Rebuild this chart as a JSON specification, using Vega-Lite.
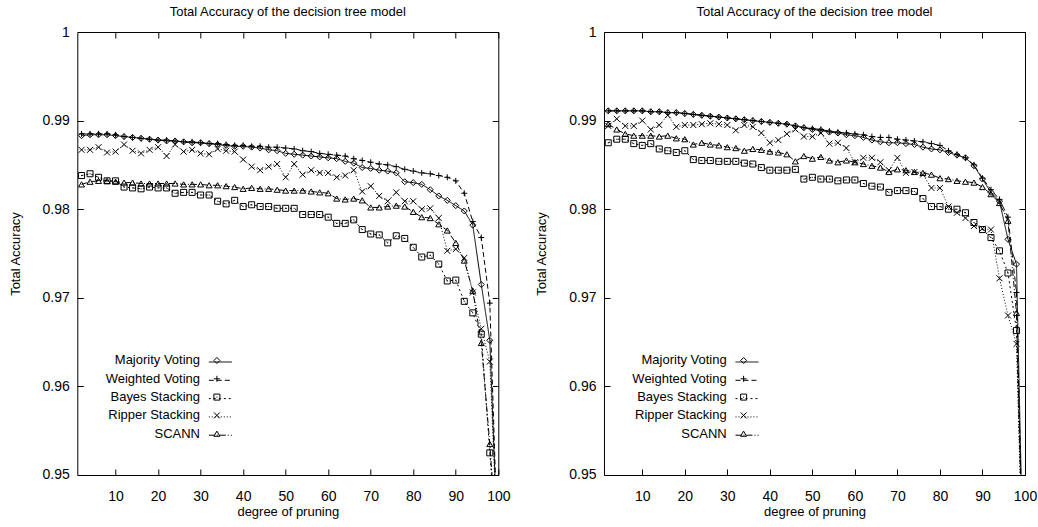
{
  "$schema": "https://vega.github.io/schema/vega-lite/v6.json",
  "padding": {"left": 8.3, "top": 5, "right": 0, "bottom": 0},
  "spacing": 23.7,
  "resolve": {"legend": {"strokeDash": "independent", "shape": "independent"}},
  "config": {
    "font": "Liberation Sans, Arial, sans-serif",
    "view": {"stroke": "black", "strokeWidth": 1},
    "axis": {"grid": false, "domain": false, "tickColor": "black", "tickSize": -6, "tickWidth": 1, "labelColor": "black", "titleColor": "black", "labelFont": "Liberation Sans, Arial, sans-serif", "titleFont": "Liberation Sans, Arial, sans-serif", "labelFontSize": 14, "titleFontSize": 13, "titleFontWeight": "normal", "labelFlush": false},
    "title": {"font": "Liberation Sans, Arial, sans-serif", "fontSize": 13, "fontWeight": "normal", "color": "black"},
    "legend": {"labelFont": "Liberation Sans, Arial, sans-serif", "labelColor": "black", "padding": 0}
  },
  "datasets": {
    "left": [
      {"deg":2,"method":"Majority Voting","acc":0.9883},{"deg":4,"method":"Majority Voting","acc":0.9884},{"deg":6,"method":"Majority Voting","acc":0.9884},{"deg":8,"method":"Majority Voting","acc":0.9884},{"deg":10,"method":"Majority Voting","acc":0.9883},{"deg":12,"method":"Majority Voting","acc":0.9882},{"deg":14,"method":"Majority Voting","acc":0.9881},{"deg":16,"method":"Majority Voting","acc":0.988},{"deg":18,"method":"Majority Voting","acc":0.9879},{"deg":20,"method":"Majority Voting","acc":0.9878},{"deg":22,"method":"Majority Voting","acc":0.9877},{"deg":24,"method":"Majority Voting","acc":0.9877},{"deg":26,"method":"Majority Voting","acc":0.9876},{"deg":28,"method":"Majority Voting","acc":0.9875},{"deg":30,"method":"Majority Voting","acc":0.9875},{"deg":32,"method":"Majority Voting","acc":0.9874},{"deg":34,"method":"Majority Voting","acc":0.9873},{"deg":36,"method":"Majority Voting","acc":0.9872},{"deg":38,"method":"Majority Voting","acc":0.9871},{"deg":40,"method":"Majority Voting","acc":0.9871},{"deg":42,"method":"Majority Voting","acc":0.987},{"deg":44,"method":"Majority Voting","acc":0.9869},{"deg":46,"method":"Majority Voting","acc":0.9867},{"deg":48,"method":"Majority Voting","acc":0.9866},{"deg":50,"method":"Majority Voting","acc":0.9863},{"deg":52,"method":"Majority Voting","acc":0.9862},{"deg":54,"method":"Majority Voting","acc":0.9861},{"deg":56,"method":"Majority Voting","acc":0.986},{"deg":58,"method":"Majority Voting","acc":0.9859},{"deg":60,"method":"Majority Voting","acc":0.9858},{"deg":62,"method":"Majority Voting","acc":0.9857},{"deg":64,"method":"Majority Voting","acc":0.9854},{"deg":66,"method":"Majority Voting","acc":0.9852},{"deg":68,"method":"Majority Voting","acc":0.9847},{"deg":70,"method":"Majority Voting","acc":0.9846},{"deg":72,"method":"Majority Voting","acc":0.9844},{"deg":74,"method":"Majority Voting","acc":0.9843},{"deg":76,"method":"Majority Voting","acc":0.9841},{"deg":78,"method":"Majority Voting","acc":0.9831},{"deg":80,"method":"Majority Voting","acc":0.983},{"deg":82,"method":"Majority Voting","acc":0.9828},{"deg":84,"method":"Majority Voting","acc":0.9822},{"deg":86,"method":"Majority Voting","acc":0.9815},{"deg":88,"method":"Majority Voting","acc":0.981},{"deg":90,"method":"Majority Voting","acc":0.9804},{"deg":92,"method":"Majority Voting","acc":0.9798},{"deg":94,"method":"Majority Voting","acc":0.9782},{"deg":96,"method":"Majority Voting","acc":0.9715},{"deg":98,"method":"Majority Voting","acc":0.9652},{"deg":100,"method":"Majority Voting","acc":0.94},
      {"deg":2,"method":"Weighted Voting","acc":0.9885},{"deg":4,"method":"Weighted Voting","acc":0.9885},{"deg":6,"method":"Weighted Voting","acc":0.9885},{"deg":8,"method":"Weighted Voting","acc":0.9885},{"deg":10,"method":"Weighted Voting","acc":0.9884},{"deg":12,"method":"Weighted Voting","acc":0.9882},{"deg":14,"method":"Weighted Voting","acc":0.9881},{"deg":16,"method":"Weighted Voting","acc":0.988},{"deg":18,"method":"Weighted Voting","acc":0.9879},{"deg":20,"method":"Weighted Voting","acc":0.9878},{"deg":22,"method":"Weighted Voting","acc":0.9878},{"deg":24,"method":"Weighted Voting","acc":0.9877},{"deg":26,"method":"Weighted Voting","acc":0.9876},{"deg":28,"method":"Weighted Voting","acc":0.9876},{"deg":30,"method":"Weighted Voting","acc":0.9875},{"deg":32,"method":"Weighted Voting","acc":0.9874},{"deg":34,"method":"Weighted Voting","acc":0.9874},{"deg":36,"method":"Weighted Voting","acc":0.9873},{"deg":38,"method":"Weighted Voting","acc":0.9872},{"deg":40,"method":"Weighted Voting","acc":0.9872},{"deg":42,"method":"Weighted Voting","acc":0.9871},{"deg":44,"method":"Weighted Voting","acc":0.9871},{"deg":46,"method":"Weighted Voting","acc":0.987},{"deg":48,"method":"Weighted Voting","acc":0.987},{"deg":50,"method":"Weighted Voting","acc":0.9869},{"deg":52,"method":"Weighted Voting","acc":0.9868},{"deg":54,"method":"Weighted Voting","acc":0.9866},{"deg":56,"method":"Weighted Voting","acc":0.9865},{"deg":58,"method":"Weighted Voting","acc":0.9863},{"deg":60,"method":"Weighted Voting","acc":0.9862},{"deg":62,"method":"Weighted Voting","acc":0.9861},{"deg":64,"method":"Weighted Voting","acc":0.986},{"deg":66,"method":"Weighted Voting","acc":0.9857},{"deg":68,"method":"Weighted Voting","acc":0.9855},{"deg":70,"method":"Weighted Voting","acc":0.9853},{"deg":72,"method":"Weighted Voting","acc":0.9851},{"deg":74,"method":"Weighted Voting","acc":0.985},{"deg":76,"method":"Weighted Voting","acc":0.9848},{"deg":78,"method":"Weighted Voting","acc":0.9845},{"deg":80,"method":"Weighted Voting","acc":0.9843},{"deg":82,"method":"Weighted Voting","acc":0.9841},{"deg":84,"method":"Weighted Voting","acc":0.984},{"deg":86,"method":"Weighted Voting","acc":0.9838},{"deg":88,"method":"Weighted Voting","acc":0.9836},{"deg":90,"method":"Weighted Voting","acc":0.9832},{"deg":92,"method":"Weighted Voting","acc":0.9818},{"deg":94,"method":"Weighted Voting","acc":0.9786},{"deg":96,"method":"Weighted Voting","acc":0.9768},{"deg":98,"method":"Weighted Voting","acc":0.9694},{"deg":100,"method":"Weighted Voting","acc":0.94},
      {"deg":2,"method":"Bayes Stacking","acc":0.9838},{"deg":4,"method":"Bayes Stacking","acc":0.984},{"deg":6,"method":"Bayes Stacking","acc":0.9836},{"deg":8,"method":"Bayes Stacking","acc":0.9832},{"deg":10,"method":"Bayes Stacking","acc":0.9832},{"deg":12,"method":"Bayes Stacking","acc":0.9825},{"deg":14,"method":"Bayes Stacking","acc":0.9824},{"deg":16,"method":"Bayes Stacking","acc":0.9823},{"deg":18,"method":"Bayes Stacking","acc":0.9825},{"deg":20,"method":"Bayes Stacking","acc":0.9824},{"deg":22,"method":"Bayes Stacking","acc":0.9824},{"deg":24,"method":"Bayes Stacking","acc":0.9818},{"deg":26,"method":"Bayes Stacking","acc":0.9819},{"deg":28,"method":"Bayes Stacking","acc":0.9819},{"deg":30,"method":"Bayes Stacking","acc":0.9816},{"deg":32,"method":"Bayes Stacking","acc":0.9816},{"deg":34,"method":"Bayes Stacking","acc":0.9809},{"deg":36,"method":"Bayes Stacking","acc":0.9806},{"deg":38,"method":"Bayes Stacking","acc":0.981},{"deg":40,"method":"Bayes Stacking","acc":0.9803},{"deg":42,"method":"Bayes Stacking","acc":0.9805},{"deg":44,"method":"Bayes Stacking","acc":0.9803},{"deg":46,"method":"Bayes Stacking","acc":0.9803},{"deg":48,"method":"Bayes Stacking","acc":0.9801},{"deg":50,"method":"Bayes Stacking","acc":0.9801},{"deg":52,"method":"Bayes Stacking","acc":0.9801},{"deg":54,"method":"Bayes Stacking","acc":0.9794},{"deg":56,"method":"Bayes Stacking","acc":0.9794},{"deg":58,"method":"Bayes Stacking","acc":0.9794},{"deg":60,"method":"Bayes Stacking","acc":0.9791},{"deg":62,"method":"Bayes Stacking","acc":0.9784},{"deg":64,"method":"Bayes Stacking","acc":0.9784},{"deg":66,"method":"Bayes Stacking","acc":0.9788},{"deg":68,"method":"Bayes Stacking","acc":0.9777},{"deg":70,"method":"Bayes Stacking","acc":0.9772},{"deg":72,"method":"Bayes Stacking","acc":0.9771},{"deg":74,"method":"Bayes Stacking","acc":0.9762},{"deg":76,"method":"Bayes Stacking","acc":0.977},{"deg":78,"method":"Bayes Stacking","acc":0.9767},{"deg":80,"method":"Bayes Stacking","acc":0.9757},{"deg":82,"method":"Bayes Stacking","acc":0.9746},{"deg":84,"method":"Bayes Stacking","acc":0.9748},{"deg":86,"method":"Bayes Stacking","acc":0.9738},{"deg":88,"method":"Bayes Stacking","acc":0.9719},{"deg":90,"method":"Bayes Stacking","acc":0.972},{"deg":92,"method":"Bayes Stacking","acc":0.9696},{"deg":94,"method":"Bayes Stacking","acc":0.9683},{"deg":96,"method":"Bayes Stacking","acc":0.9659},{"deg":98,"method":"Bayes Stacking","acc":0.9525},{"deg":100,"method":"Bayes Stacking","acc":0.94},
      {"deg":2,"method":"Ripper Stacking","acc":0.9867},{"deg":4,"method":"Ripper Stacking","acc":0.9867},{"deg":6,"method":"Ripper Stacking","acc":0.987},{"deg":8,"method":"Ripper Stacking","acc":0.9864},{"deg":10,"method":"Ripper Stacking","acc":0.9865},{"deg":12,"method":"Ripper Stacking","acc":0.9873},{"deg":14,"method":"Ripper Stacking","acc":0.9866},{"deg":16,"method":"Ripper Stacking","acc":0.9863},{"deg":18,"method":"Ripper Stacking","acc":0.9867},{"deg":20,"method":"Ripper Stacking","acc":0.987},{"deg":22,"method":"Ripper Stacking","acc":0.986},{"deg":24,"method":"Ripper Stacking","acc":0.9873},{"deg":26,"method":"Ripper Stacking","acc":0.9865},{"deg":28,"method":"Ripper Stacking","acc":0.9867},{"deg":30,"method":"Ripper Stacking","acc":0.9863},{"deg":32,"method":"Ripper Stacking","acc":0.9862},{"deg":34,"method":"Ripper Stacking","acc":0.9868},{"deg":36,"method":"Ripper Stacking","acc":0.9866},{"deg":38,"method":"Ripper Stacking","acc":0.9865},{"deg":40,"method":"Ripper Stacking","acc":0.9856},{"deg":42,"method":"Ripper Stacking","acc":0.9848},{"deg":44,"method":"Ripper Stacking","acc":0.9844},{"deg":46,"method":"Ripper Stacking","acc":0.9848},{"deg":48,"method":"Ripper Stacking","acc":0.9851},{"deg":50,"method":"Ripper Stacking","acc":0.9836},{"deg":52,"method":"Ripper Stacking","acc":0.9851},{"deg":54,"method":"Ripper Stacking","acc":0.9839},{"deg":56,"method":"Ripper Stacking","acc":0.9844},{"deg":58,"method":"Ripper Stacking","acc":0.9841},{"deg":60,"method":"Ripper Stacking","acc":0.9841},{"deg":62,"method":"Ripper Stacking","acc":0.9836},{"deg":64,"method":"Ripper Stacking","acc":0.9838},{"deg":66,"method":"Ripper Stacking","acc":0.9844},{"deg":68,"method":"Ripper Stacking","acc":0.982},{"deg":70,"method":"Ripper Stacking","acc":0.9826},{"deg":72,"method":"Ripper Stacking","acc":0.9815},{"deg":74,"method":"Ripper Stacking","acc":0.9809},{"deg":76,"method":"Ripper Stacking","acc":0.9819},{"deg":78,"method":"Ripper Stacking","acc":0.9809},{"deg":80,"method":"Ripper Stacking","acc":0.9809},{"deg":82,"method":"Ripper Stacking","acc":0.98},{"deg":84,"method":"Ripper Stacking","acc":0.9801},{"deg":86,"method":"Ripper Stacking","acc":0.979},{"deg":88,"method":"Ripper Stacking","acc":0.9753},{"deg":90,"method":"Ripper Stacking","acc":0.9755},{"deg":92,"method":"Ripper Stacking","acc":0.9745},{"deg":94,"method":"Ripper Stacking","acc":0.9706},{"deg":96,"method":"Ripper Stacking","acc":0.9665},{"deg":98,"method":"Ripper Stacking","acc":0.9628},{"deg":100,"method":"Ripper Stacking","acc":0.94},
      {"deg":2,"method":"SCANN","acc":0.9828},{"deg":4,"method":"SCANN","acc":0.9831},{"deg":6,"method":"SCANN","acc":0.9832},{"deg":8,"method":"SCANN","acc":0.9832},{"deg":10,"method":"SCANN","acc":0.9831},{"deg":12,"method":"SCANN","acc":0.983},{"deg":14,"method":"SCANN","acc":0.983},{"deg":16,"method":"SCANN","acc":0.9829},{"deg":18,"method":"SCANN","acc":0.9829},{"deg":20,"method":"SCANN","acc":0.9829},{"deg":22,"method":"SCANN","acc":0.9829},{"deg":24,"method":"SCANN","acc":0.9829},{"deg":26,"method":"SCANN","acc":0.9828},{"deg":28,"method":"SCANN","acc":0.9828},{"deg":30,"method":"SCANN","acc":0.9828},{"deg":32,"method":"SCANN","acc":0.9827},{"deg":34,"method":"SCANN","acc":0.9827},{"deg":36,"method":"SCANN","acc":0.9826},{"deg":38,"method":"SCANN","acc":0.9825},{"deg":40,"method":"SCANN","acc":0.9823},{"deg":42,"method":"SCANN","acc":0.9824},{"deg":44,"method":"SCANN","acc":0.9823},{"deg":46,"method":"SCANN","acc":0.9823},{"deg":48,"method":"SCANN","acc":0.9822},{"deg":50,"method":"SCANN","acc":0.9821},{"deg":52,"method":"SCANN","acc":0.9821},{"deg":54,"method":"SCANN","acc":0.9821},{"deg":56,"method":"SCANN","acc":0.982},{"deg":58,"method":"SCANN","acc":0.9819},{"deg":60,"method":"SCANN","acc":0.9818},{"deg":62,"method":"SCANN","acc":0.9812},{"deg":64,"method":"SCANN","acc":0.9811},{"deg":66,"method":"SCANN","acc":0.9812},{"deg":68,"method":"SCANN","acc":0.981},{"deg":70,"method":"SCANN","acc":0.9802},{"deg":72,"method":"SCANN","acc":0.9802},{"deg":74,"method":"SCANN","acc":0.9803},{"deg":76,"method":"SCANN","acc":0.9804},{"deg":78,"method":"SCANN","acc":0.9803},{"deg":80,"method":"SCANN","acc":0.9797},{"deg":82,"method":"SCANN","acc":0.9791},{"deg":84,"method":"SCANN","acc":0.979},{"deg":86,"method":"SCANN","acc":0.9783},{"deg":88,"method":"SCANN","acc":0.9776},{"deg":90,"method":"SCANN","acc":0.9762},{"deg":92,"method":"SCANN","acc":0.9742},{"deg":94,"method":"SCANN","acc":0.9708},{"deg":96,"method":"SCANN","acc":0.9649},{"deg":98,"method":"SCANN","acc":0.9535},{"deg":100,"method":"SCANN","acc":0.94}
    ],
    "right": [
      {"deg":2,"method":"Majority Voting","acc":0.9911},{"deg":4,"method":"Majority Voting","acc":0.9911},{"deg":6,"method":"Majority Voting","acc":0.9911},{"deg":8,"method":"Majority Voting","acc":0.9911},{"deg":10,"method":"Majority Voting","acc":0.9911},{"deg":12,"method":"Majority Voting","acc":0.991},{"deg":14,"method":"Majority Voting","acc":0.991},{"deg":16,"method":"Majority Voting","acc":0.9909},{"deg":18,"method":"Majority Voting","acc":0.9909},{"deg":20,"method":"Majority Voting","acc":0.9908},{"deg":22,"method":"Majority Voting","acc":0.9907},{"deg":24,"method":"Majority Voting","acc":0.9906},{"deg":26,"method":"Majority Voting","acc":0.9905},{"deg":28,"method":"Majority Voting","acc":0.9904},{"deg":30,"method":"Majority Voting","acc":0.9903},{"deg":32,"method":"Majority Voting","acc":0.9902},{"deg":34,"method":"Majority Voting","acc":0.9901},{"deg":36,"method":"Majority Voting","acc":0.99},{"deg":38,"method":"Majority Voting","acc":0.9899},{"deg":40,"method":"Majority Voting","acc":0.9898},{"deg":42,"method":"Majority Voting","acc":0.9897},{"deg":44,"method":"Majority Voting","acc":0.9896},{"deg":46,"method":"Majority Voting","acc":0.9894},{"deg":48,"method":"Majority Voting","acc":0.9892},{"deg":50,"method":"Majority Voting","acc":0.989},{"deg":52,"method":"Majority Voting","acc":0.9889},{"deg":54,"method":"Majority Voting","acc":0.9887},{"deg":56,"method":"Majority Voting","acc":0.9886},{"deg":58,"method":"Majority Voting","acc":0.9884},{"deg":60,"method":"Majority Voting","acc":0.9883},{"deg":62,"method":"Majority Voting","acc":0.9881},{"deg":64,"method":"Majority Voting","acc":0.9878},{"deg":66,"method":"Majority Voting","acc":0.9876},{"deg":68,"method":"Majority Voting","acc":0.9875},{"deg":70,"method":"Majority Voting","acc":0.9875},{"deg":72,"method":"Majority Voting","acc":0.9874},{"deg":74,"method":"Majority Voting","acc":0.9873},{"deg":76,"method":"Majority Voting","acc":0.987},{"deg":78,"method":"Majority Voting","acc":0.9868},{"deg":80,"method":"Majority Voting","acc":0.9867},{"deg":82,"method":"Majority Voting","acc":0.9864},{"deg":84,"method":"Majority Voting","acc":0.9861},{"deg":86,"method":"Majority Voting","acc":0.9858},{"deg":88,"method":"Majority Voting","acc":0.9849},{"deg":90,"method":"Majority Voting","acc":0.9834},{"deg":92,"method":"Majority Voting","acc":0.9819},{"deg":94,"method":"Majority Voting","acc":0.9809},{"deg":96,"method":"Majority Voting","acc":0.9766},{"deg":98,"method":"Majority Voting","acc":0.9738},{"deg":100,"method":"Majority Voting","acc":0.93},
      {"deg":2,"method":"Weighted Voting","acc":0.9911},{"deg":4,"method":"Weighted Voting","acc":0.9911},{"deg":6,"method":"Weighted Voting","acc":0.9911},{"deg":8,"method":"Weighted Voting","acc":0.9911},{"deg":10,"method":"Weighted Voting","acc":0.9911},{"deg":12,"method":"Weighted Voting","acc":0.991},{"deg":14,"method":"Weighted Voting","acc":0.991},{"deg":16,"method":"Weighted Voting","acc":0.9909},{"deg":18,"method":"Weighted Voting","acc":0.9909},{"deg":20,"method":"Weighted Voting","acc":0.9908},{"deg":22,"method":"Weighted Voting","acc":0.9907},{"deg":24,"method":"Weighted Voting","acc":0.9906},{"deg":26,"method":"Weighted Voting","acc":0.9905},{"deg":28,"method":"Weighted Voting","acc":0.9904},{"deg":30,"method":"Weighted Voting","acc":0.9903},{"deg":32,"method":"Weighted Voting","acc":0.9902},{"deg":34,"method":"Weighted Voting","acc":0.9901},{"deg":36,"method":"Weighted Voting","acc":0.99},{"deg":38,"method":"Weighted Voting","acc":0.9899},{"deg":40,"method":"Weighted Voting","acc":0.9898},{"deg":42,"method":"Weighted Voting","acc":0.9897},{"deg":44,"method":"Weighted Voting","acc":0.9896},{"deg":46,"method":"Weighted Voting","acc":0.9894},{"deg":48,"method":"Weighted Voting","acc":0.9892},{"deg":50,"method":"Weighted Voting","acc":0.9891},{"deg":52,"method":"Weighted Voting","acc":0.989},{"deg":54,"method":"Weighted Voting","acc":0.9888},{"deg":56,"method":"Weighted Voting","acc":0.9887},{"deg":58,"method":"Weighted Voting","acc":0.9886},{"deg":60,"method":"Weighted Voting","acc":0.9885},{"deg":62,"method":"Weighted Voting","acc":0.9884},{"deg":64,"method":"Weighted Voting","acc":0.9882},{"deg":66,"method":"Weighted Voting","acc":0.9881},{"deg":68,"method":"Weighted Voting","acc":0.9881},{"deg":70,"method":"Weighted Voting","acc":0.9879},{"deg":72,"method":"Weighted Voting","acc":0.9878},{"deg":74,"method":"Weighted Voting","acc":0.9877},{"deg":76,"method":"Weighted Voting","acc":0.9876},{"deg":78,"method":"Weighted Voting","acc":0.9874},{"deg":80,"method":"Weighted Voting","acc":0.9872},{"deg":82,"method":"Weighted Voting","acc":0.9866},{"deg":84,"method":"Weighted Voting","acc":0.9862},{"deg":86,"method":"Weighted Voting","acc":0.9858},{"deg":88,"method":"Weighted Voting","acc":0.985},{"deg":90,"method":"Weighted Voting","acc":0.9835},{"deg":92,"method":"Weighted Voting","acc":0.9822},{"deg":94,"method":"Weighted Voting","acc":0.9811},{"deg":96,"method":"Weighted Voting","acc":0.9791},{"deg":98,"method":"Weighted Voting","acc":0.9706},{"deg":100,"method":"Weighted Voting","acc":0.93},
      {"deg":2,"method":"Bayes Stacking","acc":0.9875},{"deg":4,"method":"Bayes Stacking","acc":0.9879},{"deg":6,"method":"Bayes Stacking","acc":0.9879},{"deg":8,"method":"Bayes Stacking","acc":0.9874},{"deg":10,"method":"Bayes Stacking","acc":0.9872},{"deg":12,"method":"Bayes Stacking","acc":0.9874},{"deg":14,"method":"Bayes Stacking","acc":0.9868},{"deg":16,"method":"Bayes Stacking","acc":0.9866},{"deg":18,"method":"Bayes Stacking","acc":0.9864},{"deg":20,"method":"Bayes Stacking","acc":0.9866},{"deg":22,"method":"Bayes Stacking","acc":0.9856},{"deg":24,"method":"Bayes Stacking","acc":0.9855},{"deg":26,"method":"Bayes Stacking","acc":0.9855},{"deg":28,"method":"Bayes Stacking","acc":0.9854},{"deg":30,"method":"Bayes Stacking","acc":0.9854},{"deg":32,"method":"Bayes Stacking","acc":0.9854},{"deg":34,"method":"Bayes Stacking","acc":0.9852},{"deg":36,"method":"Bayes Stacking","acc":0.9851},{"deg":38,"method":"Bayes Stacking","acc":0.9847},{"deg":40,"method":"Bayes Stacking","acc":0.9844},{"deg":42,"method":"Bayes Stacking","acc":0.9844},{"deg":44,"method":"Bayes Stacking","acc":0.9844},{"deg":46,"method":"Bayes Stacking","acc":0.9845},{"deg":48,"method":"Bayes Stacking","acc":0.9834},{"deg":50,"method":"Bayes Stacking","acc":0.9836},{"deg":52,"method":"Bayes Stacking","acc":0.9834},{"deg":54,"method":"Bayes Stacking","acc":0.9834},{"deg":56,"method":"Bayes Stacking","acc":0.9832},{"deg":58,"method":"Bayes Stacking","acc":0.9833},{"deg":60,"method":"Bayes Stacking","acc":0.9833},{"deg":62,"method":"Bayes Stacking","acc":0.9829},{"deg":64,"method":"Bayes Stacking","acc":0.9826},{"deg":66,"method":"Bayes Stacking","acc":0.9825},{"deg":68,"method":"Bayes Stacking","acc":0.9819},{"deg":70,"method":"Bayes Stacking","acc":0.9821},{"deg":72,"method":"Bayes Stacking","acc":0.9821},{"deg":74,"method":"Bayes Stacking","acc":0.982},{"deg":76,"method":"Bayes Stacking","acc":0.9812},{"deg":78,"method":"Bayes Stacking","acc":0.9803},{"deg":80,"method":"Bayes Stacking","acc":0.9803},{"deg":82,"method":"Bayes Stacking","acc":0.98},{"deg":84,"method":"Bayes Stacking","acc":0.98},{"deg":86,"method":"Bayes Stacking","acc":0.9796},{"deg":88,"method":"Bayes Stacking","acc":0.9785},{"deg":90,"method":"Bayes Stacking","acc":0.9777},{"deg":92,"method":"Bayes Stacking","acc":0.9768},{"deg":94,"method":"Bayes Stacking","acc":0.9753},{"deg":96,"method":"Bayes Stacking","acc":0.9728},{"deg":98,"method":"Bayes Stacking","acc":0.9663},{"deg":100,"method":"Bayes Stacking","acc":0.93},
      {"deg":2,"method":"Ripper Stacking","acc":0.9894},{"deg":4,"method":"Ripper Stacking","acc":0.9902},{"deg":6,"method":"Ripper Stacking","acc":0.9894},{"deg":8,"method":"Ripper Stacking","acc":0.9894},{"deg":10,"method":"Ripper Stacking","acc":0.99},{"deg":12,"method":"Ripper Stacking","acc":0.989},{"deg":14,"method":"Ripper Stacking","acc":0.9895},{"deg":16,"method":"Ripper Stacking","acc":0.9906},{"deg":18,"method":"Ripper Stacking","acc":0.9893},{"deg":20,"method":"Ripper Stacking","acc":0.9895},{"deg":22,"method":"Ripper Stacking","acc":0.9895},{"deg":24,"method":"Ripper Stacking","acc":0.9896},{"deg":26,"method":"Ripper Stacking","acc":0.9897},{"deg":28,"method":"Ripper Stacking","acc":0.9896},{"deg":30,"method":"Ripper Stacking","acc":0.9895},{"deg":32,"method":"Ripper Stacking","acc":0.9889},{"deg":34,"method":"Ripper Stacking","acc":0.9895},{"deg":36,"method":"Ripper Stacking","acc":0.9893},{"deg":38,"method":"Ripper Stacking","acc":0.9886},{"deg":40,"method":"Ripper Stacking","acc":0.9875},{"deg":42,"method":"Ripper Stacking","acc":0.9878},{"deg":44,"method":"Ripper Stacking","acc":0.9885},{"deg":46,"method":"Ripper Stacking","acc":0.989},{"deg":48,"method":"Ripper Stacking","acc":0.9882},{"deg":50,"method":"Ripper Stacking","acc":0.9882},{"deg":52,"method":"Ripper Stacking","acc":0.9886},{"deg":54,"method":"Ripper Stacking","acc":0.9874},{"deg":56,"method":"Ripper Stacking","acc":0.9875},{"deg":58,"method":"Ripper Stacking","acc":0.9869},{"deg":60,"method":"Ripper Stacking","acc":0.9853},{"deg":62,"method":"Ripper Stacking","acc":0.9858},{"deg":64,"method":"Ripper Stacking","acc":0.9858},{"deg":66,"method":"Ripper Stacking","acc":0.9853},{"deg":68,"method":"Ripper Stacking","acc":0.9844},{"deg":70,"method":"Ripper Stacking","acc":0.9858},{"deg":72,"method":"Ripper Stacking","acc":0.9841},{"deg":74,"method":"Ripper Stacking","acc":0.9842},{"deg":76,"method":"Ripper Stacking","acc":0.9839},{"deg":78,"method":"Ripper Stacking","acc":0.9824},{"deg":80,"method":"Ripper Stacking","acc":0.9824},{"deg":82,"method":"Ripper Stacking","acc":0.9803},{"deg":84,"method":"Ripper Stacking","acc":0.9796},{"deg":86,"method":"Ripper Stacking","acc":0.979},{"deg":88,"method":"Ripper Stacking","acc":0.9781},{"deg":90,"method":"Ripper Stacking","acc":0.9778},{"deg":92,"method":"Ripper Stacking","acc":0.9777},{"deg":94,"method":"Ripper Stacking","acc":0.9722},{"deg":96,"method":"Ripper Stacking","acc":0.968},{"deg":98,"method":"Ripper Stacking","acc":0.9648},{"deg":100,"method":"Ripper Stacking","acc":0.93},
      {"deg":2,"method":"SCANN","acc":0.9896},{"deg":4,"method":"SCANN","acc":0.989},{"deg":6,"method":"SCANN","acc":0.9885},{"deg":8,"method":"SCANN","acc":0.9883},{"deg":10,"method":"SCANN","acc":0.9883},{"deg":12,"method":"SCANN","acc":0.9883},{"deg":14,"method":"SCANN","acc":0.9882},{"deg":16,"method":"SCANN","acc":0.9883},{"deg":18,"method":"SCANN","acc":0.988},{"deg":20,"method":"SCANN","acc":0.9879},{"deg":22,"method":"SCANN","acc":0.9873},{"deg":24,"method":"SCANN","acc":0.9875},{"deg":26,"method":"SCANN","acc":0.9873},{"deg":28,"method":"SCANN","acc":0.9872},{"deg":30,"method":"SCANN","acc":0.987},{"deg":32,"method":"SCANN","acc":0.9869},{"deg":34,"method":"SCANN","acc":0.9866},{"deg":36,"method":"SCANN","acc":0.9868},{"deg":38,"method":"SCANN","acc":0.9867},{"deg":40,"method":"SCANN","acc":0.9865},{"deg":42,"method":"SCANN","acc":0.9864},{"deg":44,"method":"SCANN","acc":0.9862},{"deg":46,"method":"SCANN","acc":0.9854},{"deg":48,"method":"SCANN","acc":0.986},{"deg":50,"method":"SCANN","acc":0.9857},{"deg":52,"method":"SCANN","acc":0.9859},{"deg":54,"method":"SCANN","acc":0.9855},{"deg":56,"method":"SCANN","acc":0.9853},{"deg":58,"method":"SCANN","acc":0.9855},{"deg":60,"method":"SCANN","acc":0.9853},{"deg":62,"method":"SCANN","acc":0.9851},{"deg":64,"method":"SCANN","acc":0.9849},{"deg":66,"method":"SCANN","acc":0.9847},{"deg":68,"method":"SCANN","acc":0.9842},{"deg":70,"method":"SCANN","acc":0.9845},{"deg":72,"method":"SCANN","acc":0.9844},{"deg":74,"method":"SCANN","acc":0.9842},{"deg":76,"method":"SCANN","acc":0.9841},{"deg":78,"method":"SCANN","acc":0.9839},{"deg":80,"method":"SCANN","acc":0.9835},{"deg":82,"method":"SCANN","acc":0.9834},{"deg":84,"method":"SCANN","acc":0.9832},{"deg":86,"method":"SCANN","acc":0.9831},{"deg":88,"method":"SCANN","acc":0.983},{"deg":90,"method":"SCANN","acc":0.9825},{"deg":92,"method":"SCANN","acc":0.9817},{"deg":94,"method":"SCANN","acc":0.9807},{"deg":96,"method":"SCANN","acc":0.9787},{"deg":98,"method":"SCANN","acc":0.9683},{"deg":100,"method":"SCANN","acc":0.93}
    ]
  },
  "hconcat": [
    {
      "width": 421, "height": 443,
      "title": {"text": "Total Accuracy of the decision tree model", "offset": 6},
      "data": {"name": "left"},
      "layer": [
        {
          "mark": {"type": "line", "clip": true, "color": "black", "strokeWidth": 1},
          "encoding": {
            "x": {"field": "deg", "type": "quantitative", "scale": {"domain": [1, 100], "nice": false, "zero": false}, "axis": {"orient": "bottom", "values": [10, 20, 30, 40, 50, 60, 70, 80, 90, 100], "title": "degree of pruning", "labelPadding": 20.5, "titlePadding": 2}},
            "y": {"field": "acc", "type": "quantitative", "scale": {"domain": [0.95, 1], "nice": false, "zero": false}, "axis": {"orient": "left", "values": [0.95, 0.96, 0.97, 0.98, 0.99, 1], "format": ".2~f", "title": "Total Accuracy", "labelPadding": 14, "titlePadding": 20}},
            "strokeDash": {"field": "method", "type": "nominal", "scale": {"domain": ["Majority Voting", "Weighted Voting", "Bayes Stacking", "Ripper Stacking", "SCANN"], "range": [[1, 0], [5, 3], [2, 3], [1, 2], [6, 2, 1, 2]]}, "legend": {"orient": "none", "legendX": 131, "legendY": 322, "title": null, "symbolType": "stroke", "symbolSize": 529, "symbolStrokeWidth": 1, "symbolStrokeColor": "black", "labelOpacity": 0, "labelFontSize": 13, "clipHeight": 16, "rowPadding": 2.3}}
          }
        },
        {
          "mark": {"type": "point", "clip": true, "filled": false, "color": "black", "strokeWidth": 1, "size": 36, "opacity": 1},
          "encoding": {
            "x": {"field": "deg", "type": "quantitative", "scale": {"domain": [1, 100], "nice": false, "zero": false}, "axis": {"orient": "top", "values": [10, 20, 30, 40, 50, 60, 70, 80, 90, 100], "labels": false, "title": null}},
            "y": {"field": "acc", "type": "quantitative", "scale": {"domain": [0.95, 1], "nice": false, "zero": false}, "axis": {"orient": "right", "values": [0.95, 0.96, 0.97, 0.98, 0.99, 1], "labels": false, "title": null}},
            "shape": {"field": "method", "type": "nominal", "sort": ["Majority Voting", "Weighted Voting", "Bayes Stacking", "Ripper Stacking", "SCANN"], "scale": {"range": ["diamond", "M-1,0H1M0,-1V1", "M-1,-1H1V1H-1ZM-0.17,0H0.17", "M-1,-1L1,1M-1,1L1,-1", "triangle-up"]}, "legend": {"orient": "none", "legendX": 133.1, "legendY": 322, "title": null, "symbolSize": 36, "symbolStrokeWidth": 1, "symbolStrokeColor": "black", "labelAlign": "right", "labelOffset": -23.4, "labelFontSize": 13, "rowPadding": 4.3}}
          }
        }
      ],
      "resolve": {"axis": {"x": "independent", "y": "independent"}}
    },
    {
      "width": 421, "height": 443,
      "title": {"text": "Total Accuracy of the decision tree model", "offset": 6},
      "data": {"name": "right"},
      "layer": [
        {
          "mark": {"type": "line", "clip": true, "color": "black", "strokeWidth": 1},
          "encoding": {
            "x": {"field": "deg", "type": "quantitative", "scale": {"domain": [1, 100], "nice": false, "zero": false}, "axis": {"orient": "bottom", "values": [10, 20, 30, 40, 50, 60, 70, 80, 90, 100], "title": "degree of pruning", "labelPadding": 20.5, "titlePadding": 2}},
            "y": {"field": "acc", "type": "quantitative", "scale": {"domain": [0.95, 1], "nice": false, "zero": false}, "axis": {"orient": "left", "values": [0.95, 0.96, 0.97, 0.98, 0.99, 1], "format": ".2~f", "title": "Total Accuracy", "labelPadding": 14, "titlePadding": 20}},
            "strokeDash": {"field": "method", "type": "nominal", "scale": {"domain": ["Majority Voting", "Weighted Voting", "Bayes Stacking", "Ripper Stacking", "SCANN"], "range": [[1, 0], [5, 3], [2, 3], [1, 2], [6, 2, 1, 2]]}, "legend": {"orient": "none", "legendX": 131, "legendY": 322, "title": null, "symbolType": "stroke", "symbolSize": 529, "symbolStrokeWidth": 1, "symbolStrokeColor": "black", "labelOpacity": 0, "labelFontSize": 13, "clipHeight": 16, "rowPadding": 2.3}}
          }
        },
        {
          "mark": {"type": "point", "clip": true, "filled": false, "color": "black", "strokeWidth": 1, "size": 36, "opacity": 1},
          "encoding": {
            "x": {"field": "deg", "type": "quantitative", "scale": {"domain": [1, 100], "nice": false, "zero": false}, "axis": {"orient": "top", "values": [10, 20, 30, 40, 50, 60, 70, 80, 90, 100], "labels": false, "title": null}},
            "y": {"field": "acc", "type": "quantitative", "scale": {"domain": [0.95, 1], "nice": false, "zero": false}, "axis": {"orient": "right", "values": [0.95, 0.96, 0.97, 0.98, 0.99, 1], "labels": false, "title": null}},
            "shape": {"field": "method", "type": "nominal", "sort": ["Majority Voting", "Weighted Voting", "Bayes Stacking", "Ripper Stacking", "SCANN"], "scale": {"range": ["diamond", "M-1,0H1M0,-1V1", "M-1,-1H1V1H-1ZM-0.17,0H0.17", "M-1,-1L1,1M-1,1L1,-1", "triangle-up"]}, "legend": {"orient": "none", "legendX": 133.1, "legendY": 322, "title": null, "symbolSize": 36, "symbolStrokeWidth": 1, "symbolStrokeColor": "black", "labelAlign": "right", "labelOffset": -23.4, "labelFontSize": 13, "rowPadding": 4.3}}
          }
        }
      ],
      "resolve": {"axis": {"x": "independent", "y": "independent"}}
    }
  ]
}
